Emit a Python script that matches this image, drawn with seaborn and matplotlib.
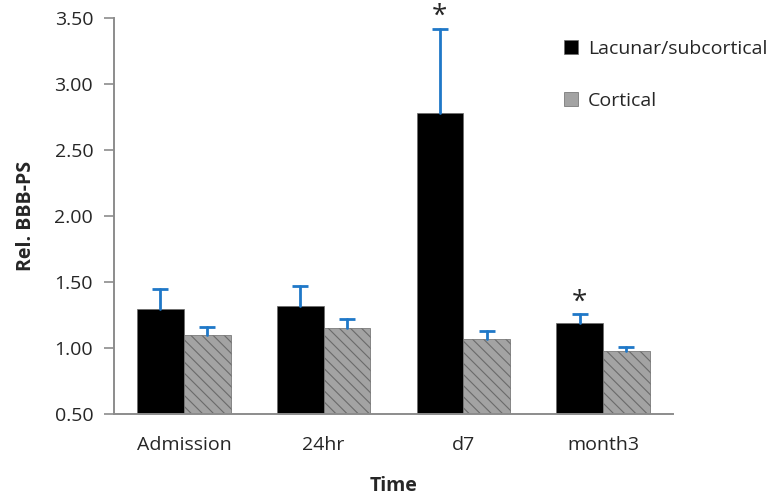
import numpy as np
import pandas as pd
import seaborn as sns
import matplotlib
matplotlib.use('Agg')
from matplotlib import pyplot as plt

sns.set_style('white')
plt.rcParams['font.family'] = ['Open Sans', 'DejaVu Sans']
plt.rcParams['hatch.color'] = '#5a5a5a'
plt.rcParams['hatch.linewidth'] = 0.8

# Data
times = ['Admission', '24hr', 'd7', 'month3']
groups = ['Lacunar/subcortical', 'Cortical']
lacunar = [1.30, 1.32, 2.78, 1.19]
lacunar_err = [0.15, 0.15, 0.64, 0.07]
cortical = [1.10, 1.15, 1.07, 0.98]
cortical_err = [0.06, 0.07, 0.06, 0.03]
starred = ['d7', 'month3']

df = pd.DataFrame({
    'Time': times * 2,
    'Group': [groups[0]] * 4 + [groups[1]] * 4,
    'Value': lacunar + cortical,
})

fig = plt.figure(figsize=(7.73, 4.99), dpi=100)
ax = fig.add_axes([0.1475, 0.170, 0.723, 0.794])

sns.barplot(data=df, x='Time', y='Value', hue='Group', order=times, hue_order=groups,
            palette=['#000000', '#a3a3a3'], width=0.67, errorbar=None,
            saturation=1, ax=ax, edgecolor='#6a6a6a', linewidth=0.5)

# hatch the cortical bars, add upper (plus-only) error bars
n = len(times)
for i, bar in enumerate(ax.patches[:2 * n]):
    g, t = divmod(i, n)
    if g == 1:
        bar.set_hatch('\\\\\\')
    err = lacunar_err[t] if g == 0 else cortical_err[t]
    xc = bar.get_x() + bar.get_width() / 2
    top = bar.get_height() + err
    ax.plot([xc, xc], [bar.get_height(), top], color='#1f78c8', lw=2, zorder=3)
    ax.plot([xc], [top], marker='_', ms=11, mew=2, color='#1f78c8', zorder=3)
    if g == 0 and times[t] in starred:
        ax.text(xc, top - 0.02, '*', ha='center', va='bottom', fontsize=20,
                clip_on=False)

yt = np.arange(0.5, 3.51, 0.5)
ax.set_ylim(0.5, 3.5)
ax.set_yticks(yt)
ax.set_yticklabels([f'{v:.2f}' for v in yt])
ax.set_xlim(-0.5, n - 0.5)
ax.tick_params(axis='y', left=True, length=7, width=1.2, color='#8c8c8c',
               labelsize=14, labelcolor='#262626', pad=8)
ax.tick_params(axis='x', bottom=False, labelsize=14, labelcolor='#262626', pad=12)
for s in ['top', 'right']:
    ax.spines[s].set_visible(False)
for s in ['left', 'bottom']:
    ax.spines[s].set_color('#8c8c8c')
    ax.spines[s].set_linewidth(1.4)

ax.set_xlabel('Time', fontsize=14, fontweight='bold', labelpad=16)
ax.set_ylabel('Rel. BBB-PS', fontsize=14, fontweight='bold', labelpad=13)

handles, labels = ax.get_legend_handles_labels()
ax.legend(handles, labels, loc='upper left', bbox_to_anchor=(0.791, 0.965),
          frameon=False, fontsize=14, labelspacing=1.75, handlelength=0.75,
          handleheight=0.75, handletextpad=0.5, borderaxespad=0)

fig.savefig('out.png', dpi=100)
